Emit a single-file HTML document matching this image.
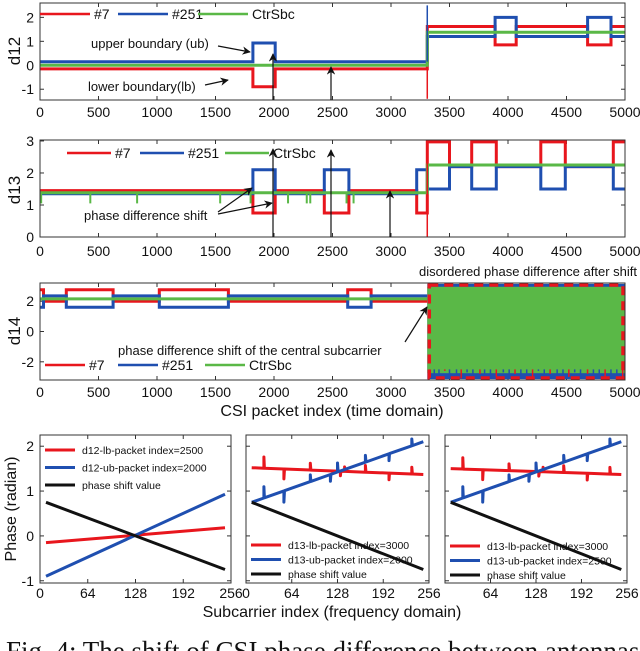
<!DOCTYPE html>
<html><head><meta charset="utf-8"><style>
html,body{margin:0;padding:0;background:#fff;}
svg{display:block;font-family:"Liberation Sans",Arial,sans-serif;}
</style></head><body>
<svg id="fig" width="640" height="651" viewBox="0 0 640 651" xmlns="http://www.w3.org/2000/svg">
<defs>
<marker id="ah" viewBox="0 0 10 10" refX="9" refY="5" markerWidth="7" markerHeight="7" orient="auto-start-reverse"><path d="M0,0 L10,5 L0,10 L3,5 z" fill="#111"/></marker>
</defs>
</svg>
<script>
// ---------- data ----------
const xTicksTime = [0,500,1000,1500,2000,2500,3000,3500,4000,4500,5000];
const d12Ticks = [-1,0,1,2];
const d13Ticks = [0,1,2,3];
const d14Ticks = [-2,0,2];
const phaseTicks = [-1,0,1,2];
const subTicks = [0,64,128,192,256];
const seriesNames = ["#7","#251","CtrSbc"];

const d12RedBreaks = [0,1820,2010,3310,3890,4070,4680,4880,5000];
const d12RedVals = [-0.15,-0.9,-0.15,1.62,0.85,1.62,0.85,1.62];
const d12BlueBreaks = [0,1820,2010,3310,3890,4070,4680,4880,5000];
const d12BlueVals = [0.15,0.93,0.15,1.2,2.0,1.2,2.0,1.2];
const d12GreenBreaks = [0,3310,5000];
const d12GreenVals = [0.0,1.38];

const d13RedBreaks = [0,1820,2010,2430,2640,3220,3310,3500,3690,3900,4280,4490,4900,5000];
const d13RedVals = [1.45,0.75,1.45,0.75,1.45,0.75,2.97,2.2,2.97,2.2,2.97,2.2,2.97];
const d13BlueBreaks = [0,1820,2010,2430,2640,3220,3310,3500,3690,3900,4280,4490,4900,5000];
const d13BlueVals = [1.35,2.1,1.35,2.1,1.35,2.1,1.5,2.2,1.5,2.2,1.5,2.2,1.5];
const d13GreenBreaks = [0,3310,5000];
const d13GreenVals = [1.38,2.25];
const d13GreenDips = [10,430,830,1540,1800,2120,2280,2310,2620,2680];

const d14RedBreaks = [0,30,225,625,1020,1610,2630,2830,3310];
const d14RedVals = [2.75,2.0,2.75,2.0,2.75,2.0,2.75,2.0];
const d14BlueBreaks = [0,30,225,625,1020,1610,2630,2830,3310];
const d14BlueVals = [1.6,2.35,1.6,2.35,1.6,2.35,1.6,2.35];
const d14GreenVal = 2.15;
const disorderStart = 3310;
const disorderEnd = 5000;
const d14NoiseIdx = [3330,3370,3410,3460,3500,3560,3600,3650,3700,3760,3800,3850,3900,3960,4010,4060,4110,4160,4210,4260,4310,4360,4420,4470,4520,4570,4620,4680,4730,4780,4830,4880,4930,4980];
const d14NoiseLo = [-3.0,-2.8,-3.1,-2.6,-3.0,-2.9,-3.1,-2.7,-3.0,-2.8,-3.1,-2.9,-3.0,-2.7,-3.1,-2.8,-3.0,-2.9,-3.1,-2.6,-3.0,-2.8,-3.1,-2.9,-3.0,-2.7,-3.1,-2.8,-3.0,-2.9,-3.1,-2.8,-3.0,-3.1];

const subStart = 8, subEnd = 248;
const aRed = [-0.15,0.18], aBlue = [-0.9,0.93], aBlack = [0.75,-0.75];
const bRed = [1.52,1.37], bBlue = [0.75,2.1], bBlack = [0.75,-0.75];
const cRed = [1.5,1.37], cBlue = [0.75,2.1], cBlack = [0.75,-0.75];
const bRedSpikeIdx = [25,53,90,132,138,167,200,232];
const bRedSpikeAmp = [0.25,-0.22,0.15,-0.1,0.1,0.15,-0.15,0.15];
const bBlueSpikeIdx = [25,53,90,118,128,167,200,232];
const bBlueSpikeAmp = [0.25,-0.25,0.15,-0.15,0.2,0.15,-0.15,0.15];

// ---------- helpers ----------
const NS="http://www.w3.org/2000/svg";
const svg=document.getElementById('fig');
function mk(tag,attrs,parent){const e=document.createElementNS(NS,tag);for(const k in attrs)e.setAttribute(k,attrs[k]);(parent||svg).appendChild(e);return e;}
function txt(s,x,y,size,anchor,parent,extra){const t=mk('text',Object.assign({x:x,y:y,'font-size':size,'text-anchor':anchor||'middle',fill:'#111'},extra||{}),parent);t.textContent=s;return t;}
function axis(x0,x1,y0,y1,xmin,xmax,ymin,ymax){return {x0,x1,y0,y1,sx:v=>x0+(v-xmin)/(xmax-xmin)*(x1-x0),sy:v=>y1-(v-ymin)/(ymax-ymin)*(y1-y0)};}
const RED='#e8161d',BLUE='#1f4fb0',GREEN='#5ab847',BLACK='#111';

function stepPath(ax,breaks,vals){let d='';for(let i=0;i<vals.length;i++){const x0=ax.sx(breaks[i]),x1=ax.sx(breaks[i+1]),y=ax.sy(vals[i]);d+=(i===0?'M':'L')+x0.toFixed(1)+','+y.toFixed(1)+'L'+x1.toFixed(1)+','+y.toFixed(1);}return d;}
function frame(ax,g,name){const r=mk('rect',{x:ax.x0,y:ax.y0,width:ax.x1-ax.x0,height:ax.y1-ax.y0,fill:'none',stroke:'#333','stroke-width':1},g);}
function xticks(ax,vals,g,ly,labels){vals.forEach((v,i)=>{const x=ax.sx(v);mk('line',{x1:x,x2:x,y1:ax.y1,y2:ax.y1-4,stroke:'#333'},g);mk('line',{x1:x,x2:x,y1:ax.y0,y2:ax.y0+4,stroke:'#333'},g);if(labels){const t=txt(labels[i],x,ly,14,'middle',g);}});}
function yticks(ax,vals,g,showLabels){vals.forEach(v=>{const y=ax.sy(v);mk('line',{x1:ax.x0,x2:ax.x0+4,y1:y,y2:y,stroke:'#333'},g);mk('line',{x1:ax.x1,x2:ax.x1-4,y1:y,y2:y,stroke:'#333'},g);if(showLabels){const t=txt(String(v),ax.x0-6,y+5,14,'end',g);}});}
function ylabel(s,x,y,g,size){const t=txt(s,x,y,size||16,'middle',g,{transform:'rotate(-90 '+x+' '+y+')'});}
function legend(g,x,y,gapsX,lineLen,size){const cols=[RED,BLUE,GREEN];seriesNames.forEach((n,i)=>{const lx=x+gapsX[i];const l=mk('line',{x1:lx,x2:lx+lineLen,y1:y,y2:y,stroke:cols[i],'stroke-width':2.5},g);const t=txt(n,lx+lineLen+4,y+5,size,'start',g);});}
function arrow(g,x1,y1,x2,y2){const a=mk('line',{x1,y1,x2,y2,stroke:'#111','stroke-width':1.2,'marker-end':'url(#ah)'},g);}
function series(ax,g,breaks,vals,col,name,w){const p=mk('path',{d:stepPath(ax,breaks,vals),fill:'none',stroke:col,'stroke-width':w||3,'stroke-linejoin':'miter'},g);}

// ---------- panel d12 ----------
const g1=mk('g',{});
const A1=axis(40,625,3,100,0,5000,-1.45,2.6);
xticks(A1,xTicksTime,g1,117,xTicksTime.map(String));yticks(A1,d12Ticks,g1,true);
series(A1,g1,d12RedBreaks,d12RedVals,RED,'d12-series-7');
series(A1,g1,d12BlueBreaks,d12BlueVals,BLUE,'d12-series-251');
series(A1,g1,d12GreenBreaks,d12GreenVals,GREEN,'d12-series-ctrsbc');
mk('line',{x1:A1.sx(3310),x2:A1.sx(3310),y1:A1.sy(2.5),y2:A1.sy(0.15),stroke:BLUE,'stroke-width':1.5},g1);
mk('line',{x1:A1.sx(3310),x2:A1.sx(3310),y1:A1.sy(-0.15),y2:A1.sy(-1.4),stroke:RED,'stroke-width':1.5},g1);
frame(A1,g1,'d12-axes-box');
legend(g1,40,14,[0,78,158],50,14);
ylabel('d12',20,51,g1,17);
txt('upper boundary (ub)',91,48,13,'start',g1);
txt('lower boundary(lb)',88,91,13,'start',g1);
arrow(g1,218,46,250,52);arrow(g1,205,85,228,80);
arrow(g1,273,100,273,54);arrow(g1,331,100,331,67);

// ---------- panel d13 ----------
const g2=mk('g',{});
const A2=axis(40,625,140,237,0,5000,0,3.03);
xticks(A2,xTicksTime,g2,256,xTicksTime.map(String));yticks(A2,d13Ticks,g2,true);
series(A2,g2,d13RedBreaks,d13RedVals,RED,'d13-series-7');
series(A2,g2,d13BlueBreaks,d13BlueVals,BLUE,'d13-series-251');
series(A2,g2,d13GreenBreaks,d13GreenVals,GREEN,'d13-series-ctrsbc');
d13GreenDips.forEach(v=>{const l=mk('line',{x1:A2.sx(v),x2:A2.sx(v),y1:A2.sy(1.38),y2:A2.sy(1.05),stroke:GREEN,'stroke-width':2},g2);});
mk('line',{x1:A2.sx(3310),x2:A2.sx(3310),y1:A2.sy(2.9),y2:A2.sy(0),stroke:RED,'stroke-width':1.5},g2);
frame(A2,g2,'d13-axes-box');
legend(g2,67,153,[0,73,158],44,14);
ylabel('d13',20,190,g2,17);
txt('phase difference shift',84,220,13,'start',g2);
arrow(g2,218,212,252,188);arrow(g2,218,214,272,203);
arrow(g2,273,237,273,149);arrow(g2,331,237,331,150);arrow(g2,390,237,390,191);

// ---------- panel d14 ----------
const g3=mk('g',{});
const A3=axis(40,625,283,380,0,5000,-3.2,3.2);
xticks(A3,xTicksTime,g3,397,xTicksTime.map(String));yticks(A3,d14Ticks,g3,true);
series(A3,g3,d14RedBreaks,d14RedVals,RED,'d14-series-7');
series(A3,g3,d14BlueBreaks,d14BlueVals,BLUE,'d14-series-251');
series(A3,g3,[0,disorderStart],[d14GreenVal],GREEN,'d14-series-ctrsbc');
const dx0=A3.sx(disorderStart),dx1=A3.sx(disorderEnd);
mk('rect',{x:dx0,y:A3.sy(3.14),width:dx1-dx0,height:A3.sy(-3.14)-A3.sy(3.14),fill:BLUE},g3);
mk('rect',{x:dx0,y:A3.sy(2.95),width:dx1-dx0,height:A3.sy(-2.75)-A3.sy(2.95),fill:GREEN},g3);
d14NoiseIdx.forEach((v,i)=>{const l=mk('line',{x1:A3.sx(v),x2:A3.sx(v),y1:A3.sy(d14NoiseLo[i]),y2:A3.sy(-2.5),stroke:i%3===0?RED:BLUE,'stroke-width':1.5},g3);});
const dr=mk('rect',{x:dx0+2,y:A3.y0+2,width:dx1-dx0-4,height:A3.y1-A3.y0-4,fill:'none',stroke:'#e8161d','stroke-width':3.5,'stroke-dasharray':'9,6'},g3);

frame(A3,g3,'d14-axes-box');
legend(g3,45,365,[0,73,160],40,14);
ylabel('d14',20,331,g3,17);
txt('disordered phase difference after shift',637,276,13,'end',g3);
txt('phase difference shift of the central subcarrier',118,355,13,'start',g3);
arrow(g3,405,342,427,307);
txt('CSI packet index (time domain)',332,416,16,'middle',g3);

// ---------- bottom panels ----------
function subPanel(name,x0,x1,red,blue,black,spikes,leg,labels,showY){
  const g=mk('g',{});
  const ax=axis(x0,x1,435,583,0,256,-1.05,2.25);
  xticks(ax,subTicks,g,598,labels);yticks(ax,phaseTicks,g,showY);
  const lines=[[red,RED,'red',bRedSpikeIdx,bRedSpikeAmp],[blue,BLUE,'blue',bBlueSpikeIdx,bBlueSpikeAmp],[black,BLACK,'black',[],[]]];
  lines.forEach(function(item){
    const v=item[0],c=item[1],n=item[2],idx=item[3],amp=item[4];
    const base=function(s){return v[0]+(v[1]-v[0])*(s-subStart)/(subEnd-subStart);};
    const pts=[[subStart,v[0]]];
    if(spikes){
      for(let i=0;i<idx.length;i++){const s=idx[i];pts.push([s,base(s)]);pts.push([s,base(s)+amp[i]]);pts.push([s+0.8,base(s+0.8)]);}
    }
    pts.push([subEnd,v[1]]);
    const str=pts.map(function(p){return ax.sx(p[0]).toFixed(1)+','+ax.sy(p[1]).toFixed(1);}).join(' ');
    const p=mk('polyline',{points:str,fill:'none',stroke:c,'stroke-width':3,'stroke-linejoin':'round'},g);
    
    
  });
  frame(ax,g,name+'-axes-box');
  const cols=[RED,BLUE,BLACK];
  leg.items.forEach((s,i)=>{const y=leg.y+i*leg.dy;mk('line',{x1:x0+5,x2:x0+35,y1:y,y2:y,stroke:cols[i],'stroke-width':3},g);const t=txt(s,x0+42,y+4,10.5,'start',g);});
  return g;
}
subPanel('phase-panel-a',40,231,aRed,aBlue,aBlack,false,{y:450,dy:17.5,items:['d12-lb-packet index=2500','d12-ub-packet index=2000','phase shift value']},['0','64','128','192','256'],true);
subPanel('phase-panel-b',246,429,bRed,bBlue,bBlack,true,{y:545,dy:14.5,items:['d13-lb-packet index=3000','d13-ub-packet index=2000','phase shift value']},['0','64','128','192','256'],false);
subPanel('phase-panel-c',445,627,cRed,cBlue,cBlack,true,{y:546,dy:14.5,items:['d13-lb-packet index=3000','d13-ub-packet index=2500','phase shift value']},['','64','128','192','256'],false);
ylabel('Phase (radian)',16,509,svg,16);
txt('Subcarrier index (frequency domain)',332,617,16,'middle');
const cap=txt('Fig. 4: The shift of CSI phase difference between antennas',6,660,27,'start',svg,{'font-family':'"Liberation Serif",serif'});

</script>
</body></html>
